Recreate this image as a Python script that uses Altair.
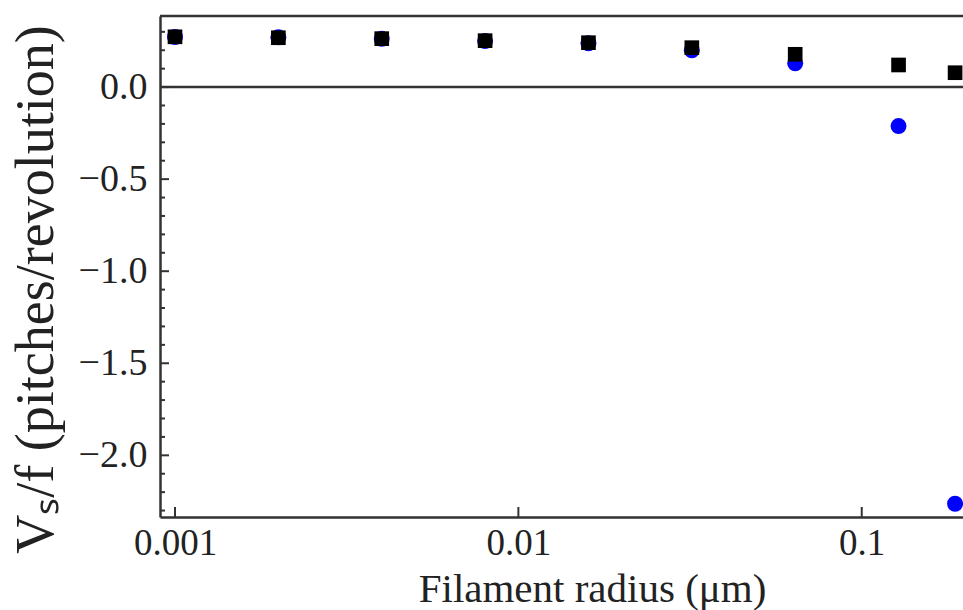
import altair as alt
import pandas as pd

# Filament radius (μm) and the speed per revolution for the two models
radius = [0.001, 0.002, 0.004, 0.008, 0.016, 0.032, 0.064, 0.128, 0.187]
vs_circle = [0.272, 0.270, 0.262, 0.250, 0.238, 0.200, 0.129, -0.212, -2.263]
vs_square = [0.273, 0.268, 0.263, 0.252, 0.241, 0.214, 0.178, 0.120, 0.078]

# Axis tick positions
x_ticks = [0.001, 0.01, 0.1]
y_major = [0.0, -0.5, -1.0, -1.5, -2.0]
y_minor = [0.3, 0.2, 0.1, -0.1, -0.2, -0.3, -0.4, -0.6, -0.7, -0.8, -0.9,
           -1.1, -1.2, -1.3, -1.4, -1.6, -1.7, -1.8, -1.9, -2.1, -2.2, -2.3]
zero_level = [0.0]

W, H = 803, 501
FONT = "Liberation Serif"
INK = "#222222"
LINE = "#333333"

x_scale = alt.Scale(type="log", domain=[0.0009043, 0.1972], nice=False)
y_scale = alt.Scale(domain=[-2.335, 0.386], nice=False, zero=False)

df = pd.DataFrame({"r": radius, "circ": vs_circle, "sq": vs_square})

x_axis = alt.Axis(
    values=x_ticks, format=".3~f", ticks=False, grid=False, labelFlush=False,
    domainColor=LINE, domainWidth=2.5, labelPadding=8,
    labelFont=FONT, labelFontSize=37, labelColor=INK,
    title="Filament radius (μm)", titleFont=FONT, titleFontSize=41,
    titleFontWeight="normal", titleColor=INK, titleX=432, titleY=84,
    titleBaseline="alphabetic", titleAlign="center",
)
y_axis = alt.Axis(
    values=y_major, format=".1f", ticks=False, grid=False,
    domainColor=LINE, domainWidth=2.5, labelPadding=13,
    labelFont=FONT, labelFontSize=38, labelColor=INK,
    title="Vₛ/f (pitches/revolution)", titleFont=FONT, titleFontSize=54,
    titleFontWeight="normal", titleColor=INK, titleX=-108, titleY=273,
    titleAngle=270, titleBaseline="alphabetic", titleAlign="center",
)


def xenc(field):
    return alt.X(field, scale=x_scale, axis=x_axis)


def yenc(field):
    return alt.Y(field, scale=y_scale, axis=y_axis)


circles = alt.Chart(df).mark_circle(color="#0000ff", opacity=1, size=255).encode(
    x=xenc("r:Q"), y=yenc("circ:Q"),
)
squares = alt.Chart(df).mark_square(color="#000000", opacity=1, size=215).encode(
    x=xenc("r:Q"), y=yenc("sq:Q"),
)

zero_line = alt.Chart(pd.DataFrame({"v": zero_level})).mark_rule(
    color=LINE, strokeWidth=2.5
).encode(y=yenc("v:Q"), x=alt.value(0), x2=alt.value(W))

top_frame = alt.Chart(pd.DataFrame({"v": zero_level})).mark_rule(
    color=LINE, strokeWidth=2.5
).encode(y=alt.value(0), x=alt.value(0), x2=alt.value(W))

# Inward-pointing frame ticks
y_major_ticks = alt.Chart(pd.DataFrame({"v": y_major})).mark_rule(
    color=LINE, strokeWidth=2
).encode(y=yenc("v:Q"), x=alt.value(0), x2=alt.value(9))
y_minor_ticks = alt.Chart(pd.DataFrame({"v": y_minor})).mark_rule(
    color=LINE, strokeWidth=2
).encode(y=yenc("v:Q"), x=alt.value(0), x2=alt.value(5))
x_major_ticks = alt.Chart(pd.DataFrame({"v": x_ticks})).mark_rule(
    color=LINE, strokeWidth=2
).encode(x=xenc("v:Q"), y=alt.value(H), y2=alt.value(H - 10))

chart = alt.layer(
    circles, squares, zero_line, top_frame, y_major_ticks, y_minor_ticks, x_major_ticks
).properties(
    width=W, height=H,
    autosize=alt.AutoSizeParams(type="none"),
    padding={"left": 160, "top": 16, "right": 0, "bottom": 93},
    background="white",
).configure_view(stroke=None)

chart.save("out.html", embed_options={"renderer": "svg", "actions": False})
